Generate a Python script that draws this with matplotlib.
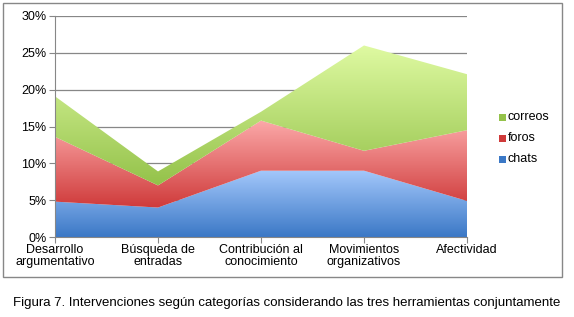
import numpy as np
import matplotlib
matplotlib.use("Agg")
import matplotlib.pyplot as plt
from matplotlib.colors import LinearSegmentedColormap
from matplotlib.patches import Rectangle

plt.rcParams['font.family'] = ['Liberation Sans', 'DejaVu Sans']

categories = ["Desarrollo\nargumentativo", "Búsqueda de\nentradas",
              "Contribución al\nconocimiento", "Movimientos\norganizativos",
              "Afectividad"]
chats = [4.8, 4.0, 9.0, 9.0, 4.9]
foros = [8.8, 3.0, 6.8, 2.7, 9.6]
correos = [5.5, 1.9, 1.2, 14.3, 7.6]
series_names = ["chats", "foros", "correos"]
yticks = [0, 5, 10, 15, 20, 25, 30]

# top colour, bottom colour for each series gradient
grads = {
    "chats": ("#a4c8fb", "#3b78c6"),
    "foros": ("#fba8a8", "#cf3a3a"),
    "correos": ("#dffaa2", "#94c24a"),
}

fig = plt.figure(figsize=(5.74, 3.17), dpi=100)
W, H = 574, 317
ax = fig.add_axes([55 / W, 1 - 237 / H, (467 - 55) / W, (237 - 16) / H])

x = np.arange(len(categories))
data = [np.array(chats), np.array(foros), np.array(correos)]
base = np.zeros(len(x))
for name, vals in zip(series_names, data):
    top = base + vals
    poly = ax.fill_between(x, base, top, color="none", lw=0)
    cmap = LinearSegmentedColormap.from_list(name, [grads[name][1], grads[name][0]])
    ylo, yhi = base.min(), top.max()
    grad = np.linspace(0, 1, 256).reshape(-1, 1)
    im = ax.imshow(grad, cmap=cmap, aspect="auto", origin="lower",
                   extent=[x[0], x[-1], ylo, yhi], zorder=2)
    im.set_clip_path(poly.get_paths()[0], transform=ax.transData)
    base = top

ax.set_xlim(x[0], x[-1])
ax.set_ylim(0, 30)
ax.set_yticks(yticks)
ax.set_yticklabels([f"{t}%" for t in yticks])
ax.set_xticks(x)
ax.set_xticklabels(categories)
ax.yaxis.grid(True, color="#878787", lw=0.9, zorder=1)
ax.set_axisbelow(True)
for s in ["top", "right"]:
    ax.spines[s].set_visible(False)
for s in ["left", "bottom"]:
    ax.spines[s].set_color("#878787")
ax.tick_params(axis="both", colors="#878787", labelcolor="black", labelsize=9,
               length=4, direction="out")
ax.tick_params(axis="y", pad=2)
ax.tick_params(axis="x", pad=1)
for lbl in ax.get_xticklabels():
    lbl.set_linespacing(1.0)

# legend
leg_y = [117, 138, 159]
for name, yy in zip(["correos", "foros", "chats"], leg_y):
    c_top, c_bot = grads[name]
    fig.patches.append(Rectangle((499 / W, 1 - (yy + 3.5) / H), 7 / W, 7 / H,
                                 transform=fig.transFigure, facecolor=c_bot,
                                 edgecolor="none"))
    fig.text(508 / W, 1 - yy / H, name, fontsize=9, va="center", ha="left")

# outer border
fig.patches.append(Rectangle((3 / W, 1 - 277 / H), (562 - 3) / W, (277 - 3) / H,
                             transform=fig.transFigure, fill=False,
                             edgecolor="#878787", lw=1))

fig.text(287 / W, 1 - 303 / H,
         "Figura 7. Intervenciones según categorías considerando las tres herramientas conjuntamente",
         fontsize=9.5, ha="center", va="center")

fig.savefig("out.png", dpi=100)
